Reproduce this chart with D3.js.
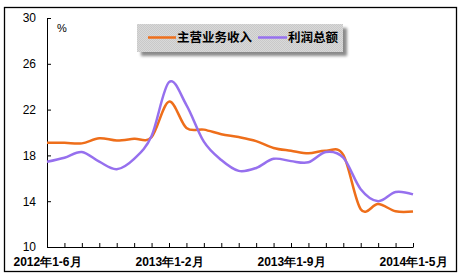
<!DOCTYPE html>
<html><head><meta charset="utf-8">
<script src="https://cdn.jsdelivr.net/npm/d3@7"></script>
<style>
body{margin:0;background:#fff;}
svg{display:block;font-family:"Liberation Sans",Arial,"Noto Sans CJK SC",sans-serif;}
</style></head><body>
<svg id="c" width="465" height="277"></svg>
<script>
const categories = ["2012年1-6月","2012年1-7月","2012年1-8月","2012年1-9月","2012年1-10月","2012年1-11月","2012年1-12月",
  "2013年1-2月","2013年1-3月","2013年1-4月","2013年1-5月","2013年1-6月","2013年1-7月","2013年1-8月",
  "2013年1-9月","2013年1-10月","2013年1-11月","2013年1-12月",
  "2014年1-2月","2014年1-3月","2014年1-4月","2014年1-5月"];
const revenue = [19.1,19.1,19.05,19.5,19.3,19.45,19.6,22.7,20.4,20.25,19.85,19.6,19.25,18.65,18.4,18.18,18.4,18.05,13.3,13.75,13.12,13.1];
const profit  = [17.45,17.8,18.3,17.45,16.8,17.7,19.7,24.4,22.4,19.2,17.6,16.65,16.9,17.7,17.5,17.4,18.3,17.8,15.05,14.0,14.8,14.6];
const shownLabels = ["2012年1-6月","2013年1-2月","2013年1-9月","2014年1-5月"];
const yTicks = [10,14,18,22,26,30];
const seriesNames = ["主营业务收入","利润总额"];
const colors = ["#EE6E1A","#9670EE"];

const svg = d3.select("#c");
const x = d3.scalePoint().domain(categories).range([47,413]);
const y = d3.scaleLinear().domain([10,30]).range([247,18]);

// frame
svg.append("rect").attr("x",4.5).attr("y",7.5).attr("width",452).attr("height",264)
  .attr("fill","none").attr("stroke","#000").attr("stroke-width",1.3);

// axes
const ya = svg.append("g").attr("transform","translate(47,0)")
  .call(d3.axisLeft(y).tickValues(yTicks).tickSize(-4).tickSizeOuter(0).tickPadding(11));
ya.selectAll("text").attr("font-size",12).attr("fill","#000").attr("font-family",null);
ya.selectAll("line,path").attr("stroke","#000");

const xa = svg.append("g").attr("transform","translate(0,247)")
  .call(d3.axisBottom(x).tickSize(-4).tickSizeOuter(0).tickPadding(10)
    .tickFormat(d => shownLabels.includes(d) ? d : ""));
xa.selectAll("text").attr("font-size",12).attr("font-weight","bold").attr("fill","#000").attr("font-family",null);
xa.selectAll("line,path").attr("stroke","#000");

svg.append("text").attr("x",57).attr("y",32).attr("font-size",11).text("%");

// lines
const line = d3.line().x((d,i)=>x(categories[i])).y(d=>y(d)).curve(d3.curveCatmullRom.alpha(0));
[revenue, profit].forEach((s,k)=>{
  svg.append("path").datum(s).attr("d",line).attr("fill","none")
    .attr("stroke",colors[k]).attr("stroke-width",2.5).attr("stroke-linejoin","round");
});

// legend
const defs = svg.append("defs");
defs.append("filter").attr("id","blur").append("feGaussianBlur").attr("stdDeviation",1.5);
const pat = defs.append("pattern").attr("id","tex").attr("width",2).attr("height",2).attr("patternUnits","userSpaceOnUse");
pat.append("rect").attr("width",2).attr("height",2).attr("fill","#d9d9d9");
pat.append("rect").attr("width",1).attr("height",1).attr("fill","#c9c9c9");
pat.append("rect").attr("x",1).attr("y",1).attr("width",1).attr("height",1).attr("fill","#c9c9c9");
svg.append("rect").attr("x",141).attr("y",28).attr("width",206).attr("height",28).attr("fill","#8a8a8a").attr("filter","url(#blur)");
svg.append("rect").attr("x",137).attr("y",24).attr("width",206).attr("height",28).attr("fill","url(#tex)");
const lg = [{x1:148,x2:176,tx:177},{x1:258,x2:287,tx:288}];
lg.forEach((l,k)=>{
  svg.append("line").attr("x1",l.x1).attr("x2",l.x2).attr("y1",37.5).attr("y2",37.5)
    .attr("stroke",colors[k]).attr("stroke-width",2.5);
  svg.append("text").attr("x",l.tx).attr("y",42).attr("font-size",12.5).attr("font-weight","bold")
    .attr("font-family","'Noto Sans CJK SC',sans-serif").text(seriesNames[k]);
});
</script></body></html>
